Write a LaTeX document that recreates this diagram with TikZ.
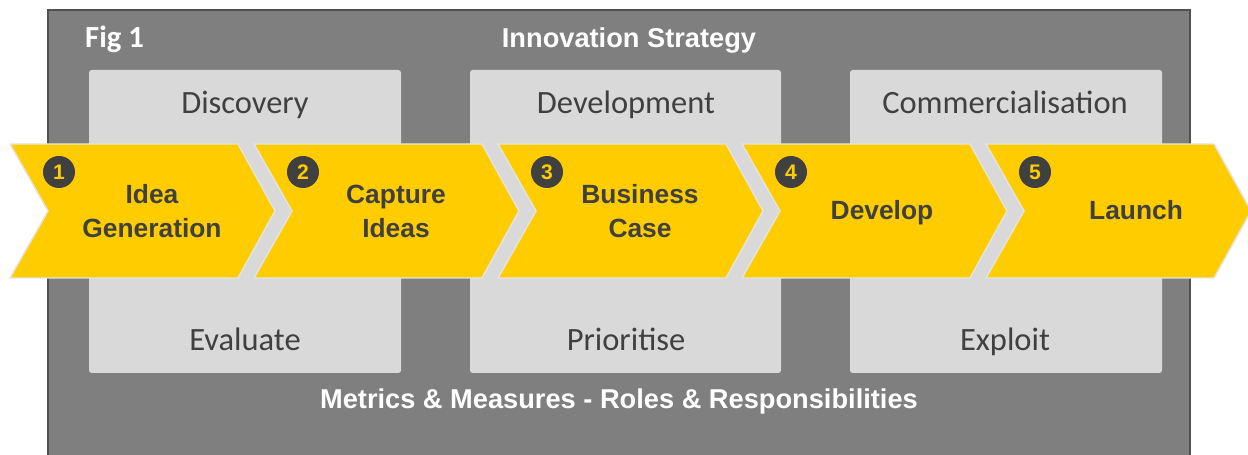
\documentclass[tikz,border=0pt]{standalone}
\usepackage{fontspec}
\setmainfont{Liberation Sans}
\newfontfamily\calibrifont{Carlito}
\usepackage{xcolor}
\definecolor{frame-grey}{RGB}{127,127,127}
\definecolor{frame-line}{RGB}{80,80,80}
\definecolor{phase-grey}{RGB}{217,217,217}
\definecolor{step-yellow}{RGB}{255,204,0}
\definecolor{text-dark}{RGB}{64,64,64}
\usetikzlibrary{calc}
\tikzset{
  outer-frame/.style={
    draw=frame-line,
    line width=1.2pt,
    fill=frame-grey
  },
  phase-box/.style={
    fill=phase-grey,
    rounded corners=1.5pt
  },
  chevron/.style={
    draw=phase-grey!70!white,
    line width=0.8pt,
    fill=step-yellow
  },
  step-label/.style={
    align=center,
    text=text-dark,
    font=\bfseries\fontsize{15}{19.3}\selectfont
  },
  one-line/.style={
    text height=10.7pt,
    text depth=0pt
  },
  phase-label/.style={
    text=text-dark,
    text height=11.9pt,
    text depth=0pt,
    font=\calibrifont\fontsize{18.5}{22}\selectfont
  },
  badge/.style={
    circle,
    fill=text-dark,
    text=step-yellow,
    inner sep=0pt,
    minimum size=0.64cm,
    font=\bfseries\fontsize{12}{12}\selectfont
  },
  title-label/.style={
    text=white,
    text height=11.1pt,
    text depth=0pt,
    font=\bfseries\fontsize{15.5}{18}\selectfont
  },
}

\begin{document}
\begin{tikzpicture}[x=0.02cm, y=-0.02cm]

  \useasboundingbox (0,0) rectangle (1248,455);

  \def\YTOP{144}
  \def\YMID{211}
  \def\YBOT{278}
  \def\XONE{10}
  \def\XTWO{254}
  \def\XTHREE{498}
  \def\XFOUR{742}
  \def\XFIVE{986}

  % background
  \draw[outer-frame] (48,475) -- (48,10) -- (1190,10) -- (1190,475);

  % phases
  \fill[phase-box] (89,70) rectangle (401,373);
  \fill[phase-box] (470,70) rectangle (781,373);
  \fill[phase-box] (850,70) rectangle (1162,373);

  \node[phase-label] (discovery) at (245,103) {Discovery};
  \node[phase-label] (evaluate) at (245,340) {Evaluate};
  \node[phase-label] (development) at (626,103) {Development};
  \node[phase-label] (prioritise) at (626,340) {Prioritise};
  \node[phase-label] (commercial) at (1005,103) {Commercialisation};
  \node[phase-label] (exploit) at (1005,340) {Exploit};

  % titles
  \node[title-label, anchor=west, text height=11.3pt, font=\calibrifont\bfseries\fontsize{17.5}{20}\selectfont] (fig) at (79,38) {Fig 1};
  \node[title-label] (strategy) at (629,38) {Innovation Strategy};
  \node[title-label] (metrics) at (619,399) {Metrics \& Measures - Roles \& Responsibilities};

  % chevrons
  \draw[chevron] (\XONE,\YTOP) -- ++(228,0) -- ++(37,67) -- ++(-37,67) -- ++(-228,0) -- ++(38,-67) -- cycle;
  \draw[chevron] (\XTWO,\YTOP) -- ++(228,0) -- ++(37,67) -- ++(-37,67) -- ++(-228,0) -- ++(38,-67) -- cycle;
  \draw[chevron] (\XTHREE,\YTOP) -- ++(228,0) -- ++(37,67) -- ++(-37,67) -- ++(-228,0) -- ++(38,-67) -- cycle;
  \draw[chevron] (\XFOUR,\YTOP) -- ++(228,0) -- ++(37,67) -- ++(-37,67) -- ++(-228,0) -- ++(38,-67) -- cycle;
  \draw[chevron] (\XFIVE,\YTOP) -- ++(228,0) -- ++(37,67) -- ++(-37,67) -- ++(-228,0) -- ++(38,-67) -- cycle;

  % numbers
  \node[badge] (badge1) at (\XONE+49,172) {1};
  \node[badge] (badge2) at (\XTWO+49,172) {2};
  \node[badge] (badge3) at (\XTHREE+49,172) {3};
  \node[badge] (badge4) at (\XFOUR+49,172) {4};
  \node[badge] (badge5) at (\XFIVE+49,172) {5};

  % step labels
  \node[step-label] (idea) at (\XONE+142,\YMID) {Idea\\Generation};
  \node[step-label] (capture) at (\XTWO+142,\YMID) {Capture\\Ideas};
  \node[step-label] (business) at (\XTHREE+142,\YMID) {Business\\Case};
  \node[step-label, one-line] (develop) at (\XFOUR+140,210) {Develop};
  \node[step-label, one-line] (launch) at (\XFIVE+150,210) {Launch};

\end{tikzpicture}
\end{document}
